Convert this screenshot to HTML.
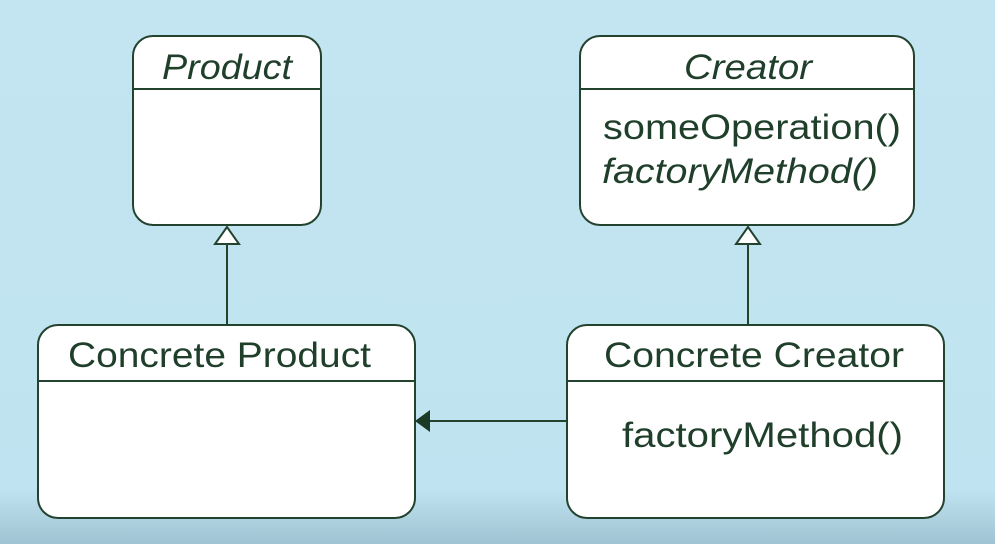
<!DOCTYPE html>
<html><head><style>
html,body{margin:0;padding:0;}
body{width:995px;height:544px;overflow:hidden;background:linear-gradient(#c3e5f1 0%,#bfe3f0 90%,#9fc3d2 100%);}
svg{display:block}
text{font-family:"Liberation Sans",sans-serif;fill:#1f3f2b;font-size:35px;}
</style></head><body>
<svg width="995" height="544" viewBox="0 0 995 544">
<g stroke="#24432f" stroke-width="2" fill="#fff">
<rect x="133" y="36" width="188" height="189" rx="20"/>
<rect x="580" y="36" width="334" height="189" rx="20"/>
<rect x="38" y="325" width="377" height="193" rx="20"/>
<rect x="567" y="325" width="377" height="193" rx="20"/>
<line x1="133" y1="89" x2="321" y2="89"/>
<line x1="580" y1="89" x2="914" y2="89"/>
<line x1="38" y1="381" x2="415" y2="381"/>
<line x1="567" y1="381" x2="944" y2="381"/>
<line x1="227" y1="244" x2="227" y2="325"/>
<line x1="748" y1="244" x2="748" y2="325"/>
<polygon points="227,227 215,244 239,244"/>
<polygon points="748,227 736,244 760,244"/>
<line x1="430" y1="421" x2="567" y2="421"/>
</g>
<polygon points="415,421 430,410 430,432" fill="#1b3a26"/>
<text x="227" y="79" text-anchor="middle" font-style="italic" textLength="130" lengthAdjust="spacingAndGlyphs">Product</text>
<text x="748" y="79" text-anchor="middle" font-style="italic" textLength="128" lengthAdjust="spacingAndGlyphs">Creator</text>
<text x="603" y="139" textLength="298" lengthAdjust="spacingAndGlyphs">someOperation()</text>
<text x="602" y="183" font-style="italic" textLength="276" lengthAdjust="spacingAndGlyphs">factoryMethod()</text>
<text x="68" y="367" textLength="303" lengthAdjust="spacingAndGlyphs">Concrete Product</text>
<text x="604" y="367" textLength="300" lengthAdjust="spacingAndGlyphs">Concrete Creator</text>
<text x="622" y="447" textLength="281" lengthAdjust="spacingAndGlyphs">factoryMethod()</text>
</svg>
</body></html>
